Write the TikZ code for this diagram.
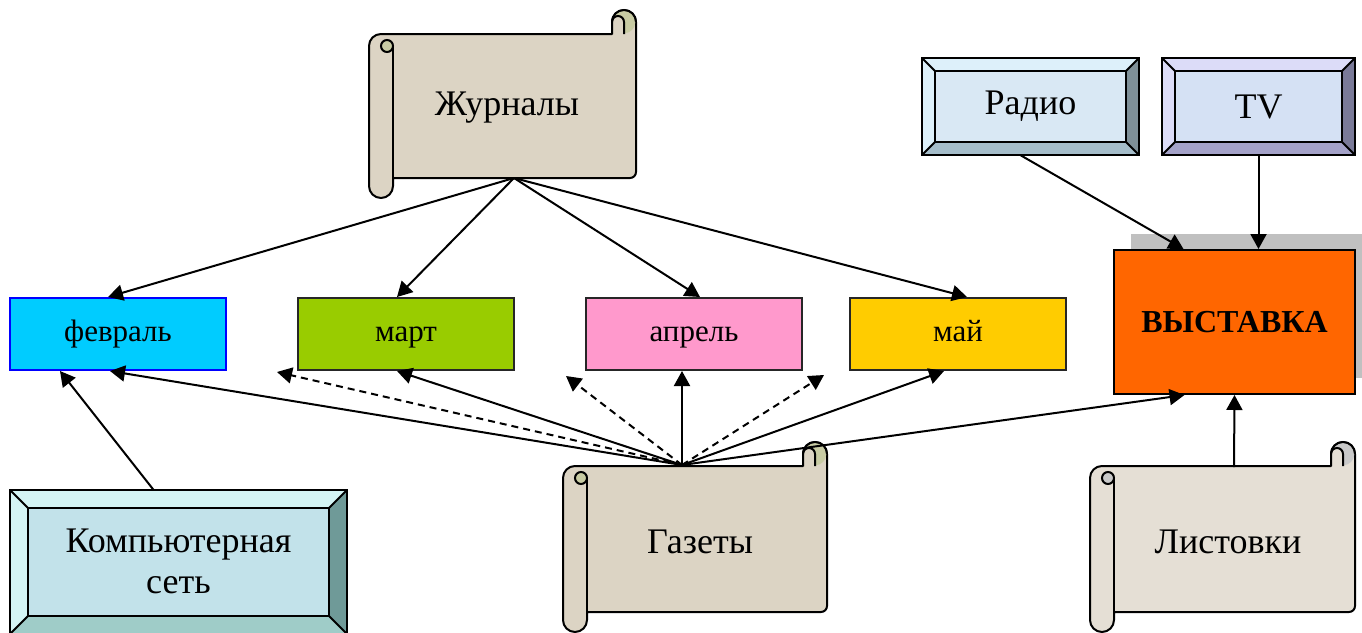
\documentclass[tikz,border=0pt]{standalone}
\usepackage{fontspec}
\setmainfont{Liberation Serif}
\usetikzlibrary{arrows.meta,calc}
\definecolor{scrollbg}{HTML}{DCD4C4}
\definecolor{scrollbgB}{HTML}{E5DFD5}
\definecolor{curlG}{HTML}{C8CBA3}
\definecolor{curlS}{HTML}{C9C9C9}
\definecolor{febc}{HTML}{00CCFF}
\definecolor{marc}{HTML}{99CC00}
\definecolor{aprc}{HTML}{FF99CC}
\definecolor{mayc}{HTML}{FFCC00}
\definecolor{vystc}{HTML}{FF6600}
\definecolor{shadc}{HTML}{C0C0C0}
\definecolor{rLight}{HTML}{DDF0FA}
\definecolor{rRight}{HTML}{7F9098}
\definecolor{rBottom}{HTML}{A5BDCA}
\definecolor{rFace}{HTML}{D9E8F4}
\definecolor{tLight}{HTML}{DCDCF8}
\definecolor{tRight}{HTML}{7A7A98}
\definecolor{tBottom}{HTML}{A4A2C8}
\definecolor{tFace}{HTML}{D5E1F4}
\definecolor{cLight}{HTML}{D4F4F4}
\definecolor{cRight}{HTML}{6F9A98}
\definecolor{cBottom}{HTML}{9FCCC8}
\definecolor{cFace}{HTML}{C2E2EA}
\tikzset{
  outl/.style={draw=black, line width=2pt},
  monthbox/.style={draw=black!85, line width=2pt, minimum width=216pt, minimum height=72pt, inner sep=0pt,
    text height=21pt, text depth=7pt, font=\fontsize{31}{34}\selectfont},
  bigtext/.style={inner sep=0pt, align=center, font=\fontsize{36}{41}\selectfont},
  arr/.style={line width=2pt, -{Triangle[length=15pt,width=16pt]}},
  darr/.style={arr, dash pattern=on 7pt off 5pt},
}
% scroll: L, T, w, h, fill, curl fill
\newcommand{\myscroll}[6]{%
\begin{scope}[shift={(#1,-#2)}]
  \filldraw[fill=#5, outl, line join=round] (0,-36) arc[start angle=180,end angle=90,radius=12pt]
     -- ({#3-24},-24) -- ({#3-24},-12) arc[start angle=180,end angle=0,radius=12pt]
     -- ({#3},{-(#4)+26}) arc[start angle=0,end angle=-90,radius=6pt]
     -- (24,{-(#4)+20}) -- (24,{-(#4)+12}) arc[start angle=0,end angle=-180,radius=12pt] -- cycle;
  \fill[#6] ({#3-12},-12) circle[radius=11.3pt];
  \fill[#5] ({#3-24},-24) -- ({#3-24},-12) arc[start angle=180,end angle=0,radius=6pt] -- ({#3-12},-24) -- cycle;
  \draw[outl] ({#3-24},-24) -- ({#3-24},-12) arc[start angle=180,end angle=0,radius=12pt];
  \draw[outl] ({#3-12},-24) -- ({#3-12},-12) arc[start angle=0,end angle=180,radius=6pt];
  \draw[outl] (24,-36) -- (24,{-(#4)+20});
  \filldraw[fill=#6, outl] (18,-36) circle[radius=6pt];
\end{scope}}
% bevel box: x1 y1 x2 y2 b light right bottom face
\newcommand{\bevelbox}[9]{%
  \fill[#6] (#1,-#2) -- (#3,-#2) -- ({#3-#5},{-#2-#5}) -- ({#1+#5},{-#2-#5}) -- ({#1+#5},{-#4+#5}) -- (#1,-#4) -- cycle;
  \fill[#7] (#3,-#2) -- (#3,-#4) -- ({#3-#5},{-#4+#5}) -- ({#3-#5},{-#2-#5}) -- cycle;
  \fill[#8] (#1,-#4) -- (#3,-#4) -- ({#3-#5},{-#4+#5}) -- ({#1+#5},{-#4+#5}) -- cycle;
  \fill[#9] ({#1+#5},{-#2-#5}) rectangle ({#3-#5},{-#4+#5});
  \draw[outl] (#1,-#2) rectangle (#3,-#4);
  \draw[outl] ({#1+#5},{-#2-#5}) rectangle ({#3-#5},{-#4+#5});
  \draw[outl] (#1,-#2) -- ({#1+#5},{-#2-#5});
  \draw[outl] (#3,-#2) -- ({#3-#5},{-#2-#5});
  \draw[outl] (#1,-#4) -- ({#1+#5},{-#4+#5});
  \draw[outl] (#3,-#4) -- ({#3-#5},{-#4+#5});
}
\begin{document}
\begin{tikzpicture}[x=1pt,y=1pt]
\useasboundingbox[fill=white] (0,0) rectangle (1362,-632);

% scrolls
\myscroll{369}{10}{267}{188}{scrollbg}{curlG}
\node[bigtext] (zhur) at (507,-108) {Журналы};
\coordinate (zhur-out) at (514,-178);

\myscroll{563}{442}{264}{190}{scrollbg}{curlG}
\node[bigtext] (gaz) at (700,-542) {Газеты};
\coordinate (gaz-out) at (682,-465);

\myscroll{1090}{442}{265}{190}{scrollbgB}{curlS}
\node[bigtext] (list) at (1228,-542) {Листовки};
\coordinate (list-out) at (1234,-467);

% bevel boxes
\bevelbox{922}{58}{1139}{155}{13}{rLight}{rRight}{rBottom}{rFace}
\node[bigtext, minimum width=217pt, minimum height=97pt] (radio) at (1030.5,-106.5) {Радио};
\bevelbox{1162}{58}{1355}{155}{13}{tLight}{tRight}{tBottom}{tFace}
\node[bigtext, minimum width=193pt, minimum height=97pt] (tv) at (1258.5,-106.5) {TV};
\bevelbox{10}{490}{347}{634}{18}{cLight}{cRight}{cBottom}{cFace}
\node[bigtext, minimum width=337pt, minimum height=143pt] (comp) at (178.5,-561.5) {Компьютерная\\сеть};

% month boxes
\node[monthbox, fill=febc, draw=blue] (feb) at (118,-334) {февраль};
\node[monthbox, fill=marc] (mar) at (406,-334) {март};
\node[monthbox, fill=aprc] (apr) at (694,-334) {апрель};
\node[monthbox, fill=mayc] (may) at (958,-334) {май};

% exhibition
\fill[shadc] (1131,-234) rectangle (1362,-378);
\node[draw=black, line width=2pt, fill=vystc, minimum width=241pt, minimum height=144pt, inner sep=0pt,
  font=\fontsize{32}{36}\selectfont\bfseries] (vyst) at (1234.5,-322) {ВЫСТАВКА};

% free ends of dashed arrows
\coordinate (d1) at (277,-372);
\coordinate (d2) at (566,-376);
\coordinate (d3) at (824,-375);

% connectors from Журналы
\draw[arr] (zhur-out) -- ([xshift=-10pt]feb.north);
\draw[arr] (zhur-out) -- ([xshift=-9pt]mar.north);
\draw[arr] (zhur-out) -- ([xshift=6pt]apr.north);
\draw[arr] (zhur-out) -- ([xshift=9pt]may.north);

% connectors from Газеты
\draw[arr] (gaz-out) -- ([xshift=-8pt]feb.south);
\draw[darr] (gaz-out) -- (d1);
\draw[arr] (gaz-out) -- ([xshift=-9pt]mar.south);
\draw[darr] (gaz-out) -- (d2);
\draw[arr] (gaz-out) -- ([xshift=-12pt]apr.south);
\draw[darr] (gaz-out) -- (d3);
\draw[arr] (gaz-out) -- ([xshift=-14pt]may.south);
\draw[arr] (gaz-out) -- ([xshift=-50pt]vyst.south);

% others
\draw[arr] ([xshift=-25pt]comp.north) -- ([xshift=-58pt]feb.south);
\draw[arr] ([xshift=-10pt]radio.south) -- ([xshift=-51pt]vyst.north);
\draw[arr] (tv.south) -- ([xshift=24pt]vyst.north);
\draw[arr] (list-out) -- (vyst.south);
\end{tikzpicture}
\end{document}
